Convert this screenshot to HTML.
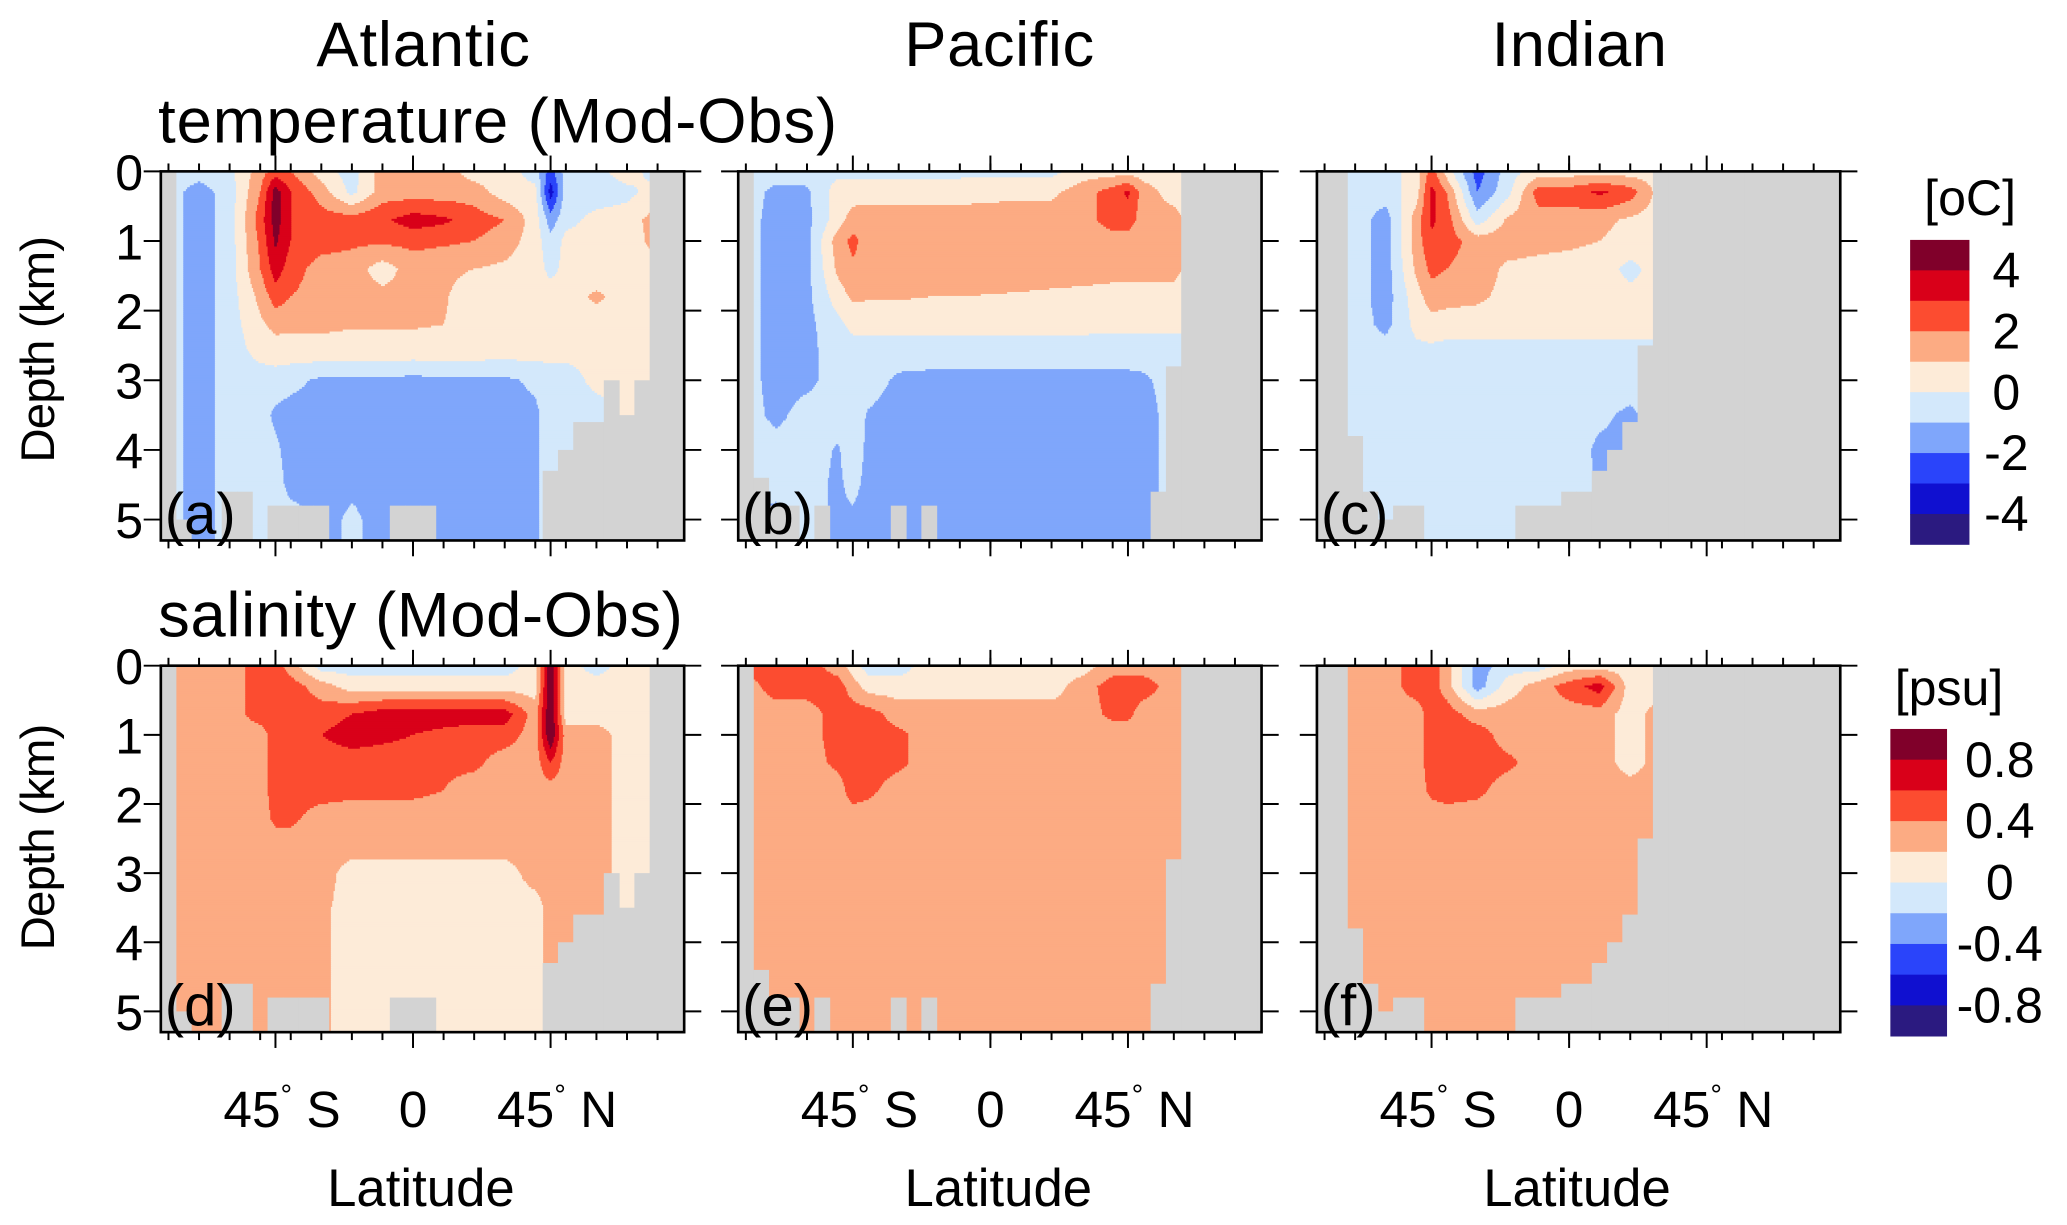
<!DOCTYPE html>
<html><head><meta charset="utf-8"><style>
html,body{margin:0;padding:0;background:#fff;}
svg{display:block;}
text{font-family:"Liberation Sans",sans-serif;fill:#000;}
</style></head><body>
<svg id="fig" width="2067" height="1225" viewBox="0 0 1568 929.3" preserveAspectRatio="none" xmlns="http://www.w3.org/2000/svg">
<rect x="0" y="0" width="1568" height="930" fill="#fff"/>
<g id="content"></g>
</svg>
<script>
const LATS=[-80,-70,-60,-50,-45,-40,-30,-20,-10,0,10,20,30,40,45,50,60,70,80,90];
const DEPTHS=[0,0.3,0.7,1.0,1.4,1.8,2.2,2.6,3.0,3.5,4.0,4.5,5.0,5.4];
const T_BOUNDS=[-4,-3,-2,-1,0,1,2,3,4];
const S_BOUNDS=[-0.8,-0.6,-0.4,-0.2,0,0.2,0.4,0.6,0.8];
const T_LABELS=["4","2","0","-2","-4"];
const S_LABELS=["0.8","0.4","0","-0.4","-0.8"];
const LAND_LATS=[-85,-80,-75,-70,-65,-60,-55,-50,-45,-40,-35,-30,-25,-20,-15,-10,-5,0,5,10,15,20,25,30,35,40,45,50,55,60,65,70,75,80,85,90];
const ATL_BOTTOM=[0,0,5.0,5.4,5.4,4.6,4.6,5.4,4.8,4.8,4.8,4.8,5.4,5.4,5.4,5.4,4.8,4.8,4.8,5.4,5.4,5.4,5.4,5.4,5.4,5.4,4.3,4.0,3.6,3.6,3.0,3.5,3.0,0,0,0];
const PAC_BOTTOM=[0,0,4.4,4.8,4.8,5.4,4.8,5.4,5.4,5.4,5.4,4.8,5.4,4.8,5.4,5.4,5.4,5.4,5.4,5.4,5.4,5.4,5.4,5.4,5.4,5.4,5.4,5.4,4.6,2.8,0,0,0,0,0,0];
const IND_BOTTOM=[0,0,0,3.8,4.6,5.0,4.8,4.8,5.4,5.4,5.4,5.4,5.4,5.4,4.8,4.8,4.8,4.6,4.6,4.3,4.0,3.6,2.5,0,0,0,0,0,0,0,0,0,0,0,0,0];

const T_ATL=[
[-.5,-.5,-.3,1.5,2.5,2,.5,-.5,1.5,1.5,1.5,.5,.5,-.5,-2.5,-.5,-.3,.5,-.5,-.5],
[-.5,-1.5,-.5,2,4.5,3,1.5,-.3,1.5,1.5,1.5,1.5,.5,.3,-3.5,-.5,-.5,-.3,.5,.5],
[-.5,-1.5,-.5,2.5,4.5,3,2.5,2.5,2.8,3.5,3.2,2.5,2,.5,-1.5,-.3,.3,.5,1.5,.5],
[-.5,-1.5,-.5,2.2,4.2,3,2.5,2.2,2.2,2.3,2.2,2,1.5,.5,-.7,.3,.3,.3,1.5,.5],
[-.5,-1.5,-.5,2,3.5,2.5,1.5,1.5,.5,1.5,1.2,1,.8,.5,-.3,.3,.3,.5,.5,.5],
[-.5,-1.5,-.5,1.3,2.5,2,1.5,1.5,1.3,1.3,1.1,.5,.5,.5,.5,.5,1.2,.5,.5,.5],
[-.5,-1.5,-.5,.8,1.3,1.2,1.2,1.1,1.1,1.1,1,.6,.5,.5,.5,.5,.5,.5,.5,.5],
[-.5,-1.5,-.5,.3,.5,.5,.6,.5,.5,.5,.5,.5,.4,.4,.3,.3,.3,.3,.3,.3],
[-.5,-1.5,-.5,-.5,-.5,-.7,-1.2,-1.2,-1.2,-1.3,-1.2,-1.2,-1.2,-.8,-.5,-.5,.3,.3,.3,.3],
[-.5,-1.5,-.5,-.6,-1.2,-1.4,-1.5,-1.5,-1.5,-1.5,-1.5,-1.5,-1.5,-1.2,-.5,-.5,-.5,.3,.3,.3],
[-.5,-1.5,-.5,-.5,-.8,-1.4,-1.5,-1.5,-1.5,-1.5,-1.5,-1.5,-1.5,-1.2,-.5,-.5,-.5,-.5,-.5,-.5],
[-.5,-1.5,-.5,-.5,-.6,-1.3,-1.3,-1.1,-1.2,-1.5,-1.5,-1.5,-1.5,-1.2,-.5,-.5,-.5,-.5,-.5,-.5],
[-.5,-1.5,-.5,-.5,-.5,-.6,-1.2,-.9,-1.2,-1.5,-1.5,-1.5,-1.5,-1.2,-.5,-.5,-.5,-.5,-.5,-.5],
[-.5,-1.5,-.5,-.5,-.5,-.6,-1.2,-.9,-1.2,-1.5,-1.5,-1.5,-1.5,-1.2,-.5,-.5,-.5,-.5,-.5,-.5]];
const T_PAC=[
[-.5,-.5,-.5,-.3,-.3,-.3,-.3,-.3,-.3,-.3,-.3,-.3,.5,.5,.5,.5,.5,0,0,0],
[-.5,-1.3,-1.2,.5,.5,.6,.6,.6,.6,.7,.8,.8,1.5,2.5,3.2,1.5,.5,0,0,0],
[-.5,-1.5,-1.3,.5,1.5,1.5,1.5,1.5,1.5,1.5,1.5,1.5,1.5,2.5,2.5,1.5,1.5,0,0,0],
[-.5,-1.5,-1.3,1.5,2.3,1.5,1.5,1.5,1.5,1.5,1.5,1.5,1.5,1.5,1.5,1.5,1.5,0,0,0],
[-.5,-1.5,-1.3,1.2,1.8,1.5,1.5,1.5,1.5,1.5,1.5,1.5,1.5,1.4,1.4,1.4,1.4,0,0,0],
[-.5,-1.5,-1.3,.5,1.2,1.1,1.1,1,1,.95,.9,.8,.7,.6,.5,.5,.5,0,0,0],
[-.5,-1.5,-1.3,-.3,.3,.3,.3,.3,.3,.3,.3,.3,.3,.2,.2,.2,.2,0,0,0],
[-.5,-1.5,-1.3,-.5,-.5,-.5,-.5,-.5,-.5,-.5,-.5,-.5,-.5,-.5,-.5,-.5,-.5,0,0,0],
[-.5,-1.5,-1.3,-.5,-.5,-.5,-1.2,-1.3,-1.3,-1.3,-1.3,-1.3,-1.3,-1.3,-1.3,-1.2,-.5,0,0,0],
[-.5,-1.3,-.5,-.6,-.5,-1.1,-1.5,-1.5,-1.5,-1.5,-1.5,-1.5,-1.5,-1.5,-1.5,-1.5,-.5,0,0,0],
[-.5,-.5,-.5,-1.1,-.5,-1.2,-1.5,-1.5,-1.5,-1.5,-1.5,-1.5,-1.5,-1.5,-1.5,-1.5,-.5,0,0,0],
[-.5,-.8,-.6,-1.2,-.7,-1.3,-1.5,-1.5,-1.5,-1.5,-1.5,-1.5,-1.5,-1.5,-1.5,-1.5,-.5,0,0,0],
[-1.2,-1.2,-.6,-1.2,-1.2,-1.5,-1.5,-1.5,-1.5,-1.5,-1.5,-1.5,-1.5,-1.5,-1.5,-1.5,-.5,0,0,0],
[-1.2,-1.2,-.6,-1.2,-1.2,-1.5,-1.5,-1.5,-1.5,-1.5,-1.5,-1.5,-1.5,-1.5,-1.5,-1.5,-.5,0,0,0]];
const T_IND=[
[-.5,-.5,-.5,.5,2.5,.5,-2.5,-.5,.5,.5,.5,.5,.5,.5,.5,.5,.5,.5,.5,.5],
[-.5,-.5,-.5,.5,3.3,2,-2,-.3,2.5,2.5,3.2,2.5,.5,.5,.5,.5,.5,.5,.5,.5],
[-.5,-.5,-1.5,1.5,3.2,2.5,-.5,1.2,1.5,1.5,1.3,.8,.5,.5,.5,.5,.5,.5,.5,.5],
[-.5,-.5,-1.5,1.5,2.8,2.5,1.5,1.5,1.3,1.2,1,.6,.5,.5,.5,.5,.5,.5,.5,.5],
[-.5,-.5,-1.5,1.2,2.3,2,1.5,.8,.7,.6,.5,-.3,.5,.5,.5,.5,.5,.5,.5,.5],
[-.5,-.5,-1.5,.6,1.5,1.3,1.2,.7,.6,.6,.5,.3,.3,.3,.3,.3,.3,.3,.3,.3],
[-.5,-.5,-1.3,.3,.6,.6,.5,.5,.5,.5,.5,.5,.5,.5,.5,.5,.5,.5,.5,.5],
[-.5,-.5,-.5,-.3,-.3,-.5,-.5,-.5,-.5,-.5,-.5,-.5,-.5,-.5,-.5,-.5,-.5,-.5,-.5,-.5],
[-.5,-.5,-.5,-.5,-.5,-.5,-.5,-.5,-.5,-.5,-.5,-.5,-.5,-.5,-.5,-.5,-.5,-.5,-.5,-.5],
[-.5,-.5,-.5,-.5,-.5,-.5,-.5,-.5,-.5,-.5,-.8,-1.2,-.5,-.5,-.5,-.5,-.5,-.5,-.5,-.5],
[-.5,-.5,-.5,-.5,-.5,-.5,-.5,-.5,-.5,-.5,-1.2,-1.2,-.5,-.5,-.5,-.5,-.5,-.5,-.5,-.5],
[-.5,-.5,-.5,-.5,-.5,-.5,-.9,-.5,-.5,-.5,-1.1,-.5,-.5,-.5,-.5,-.5,-.5,-.5,-.5,-.5],
[-.5,-.5,-.5,-.5,-.5,-.8,-.5,-.5,-.5,-.5,-.5,-.5,-.5,-.5,-.5,-.5,-.5,-.5,-.5,-.5],
[-.5,-.5,-.5,-.5,-.5,-.8,-.5,-.5,-.5,-.5,-.5,-.5,-.5,-.5,-.5,-.5,-.5,-.5,-.5,-.5]];
const S_ATL=[
[.3,.3,.3,.5,.5,.3,-.1,-.1,-.1,-.1,-.1,-.1,-.1,.1,1.0,.1,-.1,.1,.1,.1],
[.3,.3,.3,.5,.5,.5,.3,.1,.1,.1,.1,.1,.1,.1,1.0,.1,.1,.1,.1,.1],
[.3,.3,.3,.5,.5,.5,.5,.6,.7,.7,.7,.7,.7,.3,1.0,.1,.1,.1,.1,.1],
[.3,.3,.3,.3,.5,.5,.6,.7,.65,.6,.55,.5,.5,.3,1.0,.3,.3,.1,.1,.1],
[.3,.3,.3,.3,.5,.5,.5,.5,.5,.5,.45,.45,.3,.3,.6,.3,.3,.1,.1,.1],
[.3,.3,.3,.3,.5,.5,.5,.45,.45,.45,.4,.3,.3,.3,.3,.3,.3,.1,.1,.1],
[.3,.3,.3,.3,.45,.45,.3,.3,.3,.3,.3,.3,.3,.3,.3,.3,.3,.1,.1,.1],
[.3,.3,.3,.3,.3,.3,.3,.3,.3,.3,.3,.3,.3,.3,.3,.3,.3,.1,.1,.1],
[.3,.3,.3,.3,.3,.3,.3,.1,.1,.1,.1,.1,.1,.3,.3,.3,.3,.1,.1,.1],
[.3,.3,.3,.3,.3,.3,.25,.1,.1,.1,.1,.1,.1,.1,.3,.3,.3,.1,.1,.1],
[.3,.3,.3,.3,.3,.3,.25,.1,.1,.1,.1,.1,.1,.1,.3,.3,.3,.1,.1,.1],
[.3,.3,.3,.3,.3,.3,.25,.1,.1,.1,.1,.1,.1,.1,.3,.3,.3,.1,.1,.1],
[.3,.3,.3,.3,.3,.3,.25,.1,.1,.1,.1,.1,.1,.1,.3,.3,.3,.1,.1,.1],
[.3,.3,.3,.3,.3,.3,.25,.1,.1,.1,.1,.1,.1,.1,.3,.3,.3,.1,.1,.1]];
const S_PAC=[
[.5,.5,.5,.3,.1,-.1,-.1,.1,.1,.1,.1,.1,.1,.3,.3,.3,.3,.3,.3,.3],
[.3,.5,.5,.5,.3,.1,.1,.1,.1,.1,.1,.1,.3,.5,.5,.5,.3,.3,.3,.3],
[.3,.3,.3,.5,.5,.5,.3,.3,.3,.3,.3,.3,.3,.45,.45,.3,.3,.3,.3,.3],
[.3,.3,.3,.5,.5,.5,.45,.3,.3,.3,.3,.3,.3,.3,.3,.3,.3,.3,.3,.3],
[.3,.3,.3,.45,.5,.5,.45,.3,.3,.3,.3,.3,.3,.3,.3,.3,.3,.3,.3,.3],
[.3,.3,.3,.3,.5,.45,.3,.3,.3,.3,.3,.3,.3,.3,.3,.3,.3,.3,.3,.3],
[.3,.3,.3,.3,.3,.3,.3,.3,.3,.3,.3,.3,.3,.3,.3,.3,.3,.3,.3,.3],
[.3,.3,.3,.3,.3,.3,.3,.3,.3,.3,.3,.3,.3,.3,.3,.3,.3,.3,.3,.3],
[.3,.3,.3,.3,.3,.3,.3,.3,.3,.3,.3,.3,.3,.3,.3,.3,.3,.3,.3,.3],
[.3,.3,.3,.3,.3,.3,.3,.3,.3,.3,.3,.3,.3,.3,.3,.3,.3,.3,.3,.3],
[.3,.3,.3,.3,.3,.3,.3,.3,.3,.3,.3,.3,.3,.3,.3,.3,.3,.3,.3,.3],
[.3,.3,.3,.3,.3,.3,.3,.3,.3,.3,.3,.3,.3,.3,.3,.3,.3,.3,.3,.3],
[.3,.3,.3,.3,.3,.3,.3,.3,.3,.3,.3,.3,.3,.3,.3,.3,.3,.3,.3,.3],
[.3,.3,.3,.3,.3,.3,.3,.3,.3,.3,.3,.3,.3,.3,.3,.3,.3,.3,.3,.3]];
const S_IND=[
[.3,.3,.3,.5,.5,.3,-.3,-.1,-.1,.1,.1,.1,.1,.1,.1,.1,.1,.1,.1,.1],
[.3,.3,.3,.5,.5,.3,-.3,.1,.3,.5,.7,.1,.1,.1,.1,.1,.1,.1,.1,.1],
[.3,.3,.3,.3,.5,.5,.3,.3,.3,.3,.3,.1,.3,.3,.3,.3,.3,.3,.3,.3],
[.3,.3,.3,.3,.5,.5,.5,.3,.3,.3,.3,.1,.3,.3,.3,.3,.3,.3,.3,.3],
[.3,.3,.3,.3,.5,.5,.5,.45,.3,.3,.3,.1,.3,.3,.3,.3,.3,.3,.3,.3],
[.3,.3,.3,.3,.45,.5,.45,.3,.3,.3,.3,.3,.3,.3,.3,.3,.3,.3,.3,.3],
[.3,.3,.3,.3,.3,.3,.3,.3,.3,.3,.3,.3,.3,.3,.3,.3,.3,.3,.3,.3],
[.3,.3,.3,.3,.3,.3,.3,.3,.3,.3,.3,.3,.3,.3,.3,.3,.3,.3,.3,.3],
[.3,.3,.3,.3,.3,.3,.3,.3,.3,.3,.3,.3,.3,.3,.3,.3,.3,.3,.3,.3],
[.3,.3,.3,.3,.3,.3,.3,.3,.3,.3,.3,.3,.3,.3,.3,.3,.3,.3,.3,.3],
[.3,.3,.3,.3,.3,.3,.3,.3,.3,.3,.3,.3,.3,.3,.3,.3,.3,.3,.3,.3],
[.3,.3,.3,.3,.3,.3,.3,.3,.3,.3,.3,.3,.3,.3,.3,.3,.3,.3,.3,.3],
[.3,.3,.3,.3,.3,.3,.3,.3,.3,.3,.3,.3,.3,.3,.3,.3,.3,.3,.3,.3],
[.3,.3,.3,.3,.3,.3,.3,.3,.3,.3,.3,.3,.3,.3,.3,.3,.3,.3,.3,.3]];

const COLORS=['#2b1a80','#1010d0','#2a44fa','#7fa6fb','#d3e8fb','#fdebd8','#fcab83','#fc4c30','#d90019','#80002a'];
const LAND='#d3d3d3';
const NS='http://www.w3.org/2000/svg';
const root=document.getElementById('content');
const LAT_MIN=-82.5, LAT_MAX=88.7, DMAX=5.3, PW=397;

function mk(tag,attrs,parent){const e=document.createElementNS(NS,tag);for(const k in attrs)e.setAttribute(k,attrs[k]);(parent||root).appendChild(e);return e;}
function txt(x,y,s,size,anchor,parent){const t=mk('text',{x:x,y:y,'font-size':size,'text-anchor':anchor||'start'},parent);t.textContent=s;return t;}
function seg(a,v){let i=0;while(i<a.length-2&&v>a[i+1])i++;let f=(v-a[i])/(a[i+1]-a[i]);f=Math.max(0,Math.min(1,f));return [i,f];}
function val(grid,lat,d){const [i,fi]=seg(LATS,lat);const [j,fj]=seg(DEPTHS,d);
  const a=grid[j][i],b=grid[j][i+1],c=grid[j+1][i],e=grid[j+1][i+1];
  return (a*(1-fi)+b*fi)*(1-fj)+(c*(1-fi)+e*fi)*fj;}
function cidx(v,bounds){let k=0;for(const b of bounds)if(v>b)k++;return k;}

function panel(name,label,x0,y0,h,grid,bounds,bottom,showY){
  const g=mk('g',{});
  
  
  const xs=lat=>x0+(lat-LAT_MIN)/(LAT_MAX-LAT_MIN)*PW;
  const ys=d=>y0+d/DMAX*h;
  const field=mk('g',{},g);
  
  
  const step=1.5;
  for(let py=0;py<h;py+=step){
    const d=(py+step/2)/h*DMAX;
    let runStart=0,cur=-1;
    for(let px=0;px<=PW;px++){
      let k=-2;
      if(px<PW){const lat=LAT_MIN+(px+0.5)/PW*(LAT_MAX-LAT_MIN);k=cidx(val(grid,lat,d),bounds);}
      if(k!==cur){
        if(cur>=0){const r=mk('rect',{x:x0+runStart,y:y0+py,width:px-runStart+0.4,height:Math.min(step+0.4,h-py),fill:COLORS[cur]},field);
          
          }
        cur=k;runStart=px;}
    }
  }
  const land=mk('g',{},g);
  
  
  LAND_LATS.forEach((lat,i)=>{const bd=bottom[i];if(bd>=DMAX)return;
    let xa=Math.max(x0,xs(lat-2.5)),xb=Math.min(x0+PW,xs(lat+2.5));if(xb<=xa)return;
    const r=mk('rect',{x:xa-0.2,y:ys(bd),width:xb-xa+0.4,height:y0+h-ys(bd),fill:LAND},land);
    
    });
  const fr=mk('rect',{x:x0,y:y0,width:PW,height:h,fill:'none',stroke:'#000','stroke-width':2},g);
  
  
  const tk=mk('g',{stroke:'#000','stroke-width':1.5},g);
  
  
  for(let lat=-80;lat<=80;lat+=10){const x=xs(lat);mk('line',{x1:x,x2:x,y1:y0,y2:y0-6},tk);mk('line',{x1:x,x2:x,y1:y0+h,y2:y0+h+6},tk);}
  [-45,0,45].forEach(lat=>{const x=xs(lat);mk('line',{x1:x,x2:x,y1:y0,y2:y0-12},tk);mk('line',{x1:x,x2:x,y1:y0+h,y2:y0+h+12},tk);});
  for(let d=0;d<=5;d++){const y=ys(d);mk('line',{x1:x0,x2:x0-13,y1:y,y2:y},tk);mk('line',{x1:x0+PW,x2:x0+PW+13,y1:y,y2:y},tk);
    if(showY){const t=txt(x0-24,y+14,String(d),38,'middle',g);}}
  const pl=txt(x0+3,y0+h-5,label,44,'start',g);
  
  
  return xs;
}

const xa=panel('panel-a-atlantic-temperature','(a)',122,130,280,T_ATL,T_BOUNDS,ATL_BOTTOM,true);
const xb=panel('panel-b-pacific-temperature','(b)',560,130,280,T_PAC,T_BOUNDS,PAC_BOTTOM,false);
const xc=panel('panel-c-indian-temperature','(c)',999,130,280,T_IND,T_BOUNDS,IND_BOTTOM,false);
panel('panel-d-atlantic-salinity','(d)',122,505,278,S_ATL,S_BOUNDS,ATL_BOTTOM,true);
panel('panel-e-pacific-salinity','(e)',560,505,278,S_PAC,S_BOUNDS,PAC_BOTTOM,false);
panel('panel-f-indian-salinity','(f)',999,505,278,S_IND,S_BOUNDS,IND_BOTTOM,false);

[xa,xb,xc].forEach((xs,i)=>{
  [[-45,'45','S'],[0,'0',''],[45,'45','N']].forEach(([lat,n,h])=>{
    const t=mk('text',{x:xs(lat)+(h?5:0),y:855,'font-size':39,'text-anchor':'middle'});
    
    
    if(h){const a=mk('tspan',{},t);a.textContent=n;const b=mk('tspan',{'font-size':22,dy:-17},t);b.textContent='°';const c=mk('tspan',{dy:17},t);c.textContent=' '+h;}
    else t.textContent=n;
  });
  const xl=txt(xs(0)+6,915,'Latitude',40,'middle');
  
  
});
[['Atlantic',321,162],['Pacific',758,144],['Indian',1198,133]].forEach(([s,x,L])=>{const t=txt(x,50,s,48,'middle');t.setAttribute('textLength',L);});
let t=txt(120,108,'temperature (Mod-Obs)',48,'start');t.setAttribute('textLength',515);
t=txt(120,483,'salinity (Mod-Obs)',48,'start');t.setAttribute('textLength',398);
[[265],[635]].forEach(([cy])=>{const yt=mk('text',{x:0,y:0,'font-size':36,'text-anchor':'middle',transform:`translate(41,${cy}) rotate(-90)`});yt.textContent='Depth (km)';
  yt.setAttribute('textLength',172);
  
  });

function colorbar(name,x,y,w,h,labels,title,lx,ty){
  const g=mk('g',{});
  
  
  const bh=h/COLORS.length;
  for(let i=0;i<COLORS.length;i++){const r=mk('rect',{x:x,y:y+i*bh,width:w,height:bh+0.3,fill:COLORS[COLORS.length-1-i]},g);
    
    }
  labels.forEach((s,i)=>{const tt=txt(lx,y+(1+2*i)*bh+13,s,38,'middle',g);});
  const tt=txt(x+w/2+23,ty,title,38,'middle',g);
  
  
}
colorbar('temperature-colorbar',1449,182,45,231,T_LABELS,'[oC]',1522,163);
colorbar('salinity-colorbar',1434,553,43,233,S_LABELS,'[psu]',1517,535);
</script>
</body></html>
